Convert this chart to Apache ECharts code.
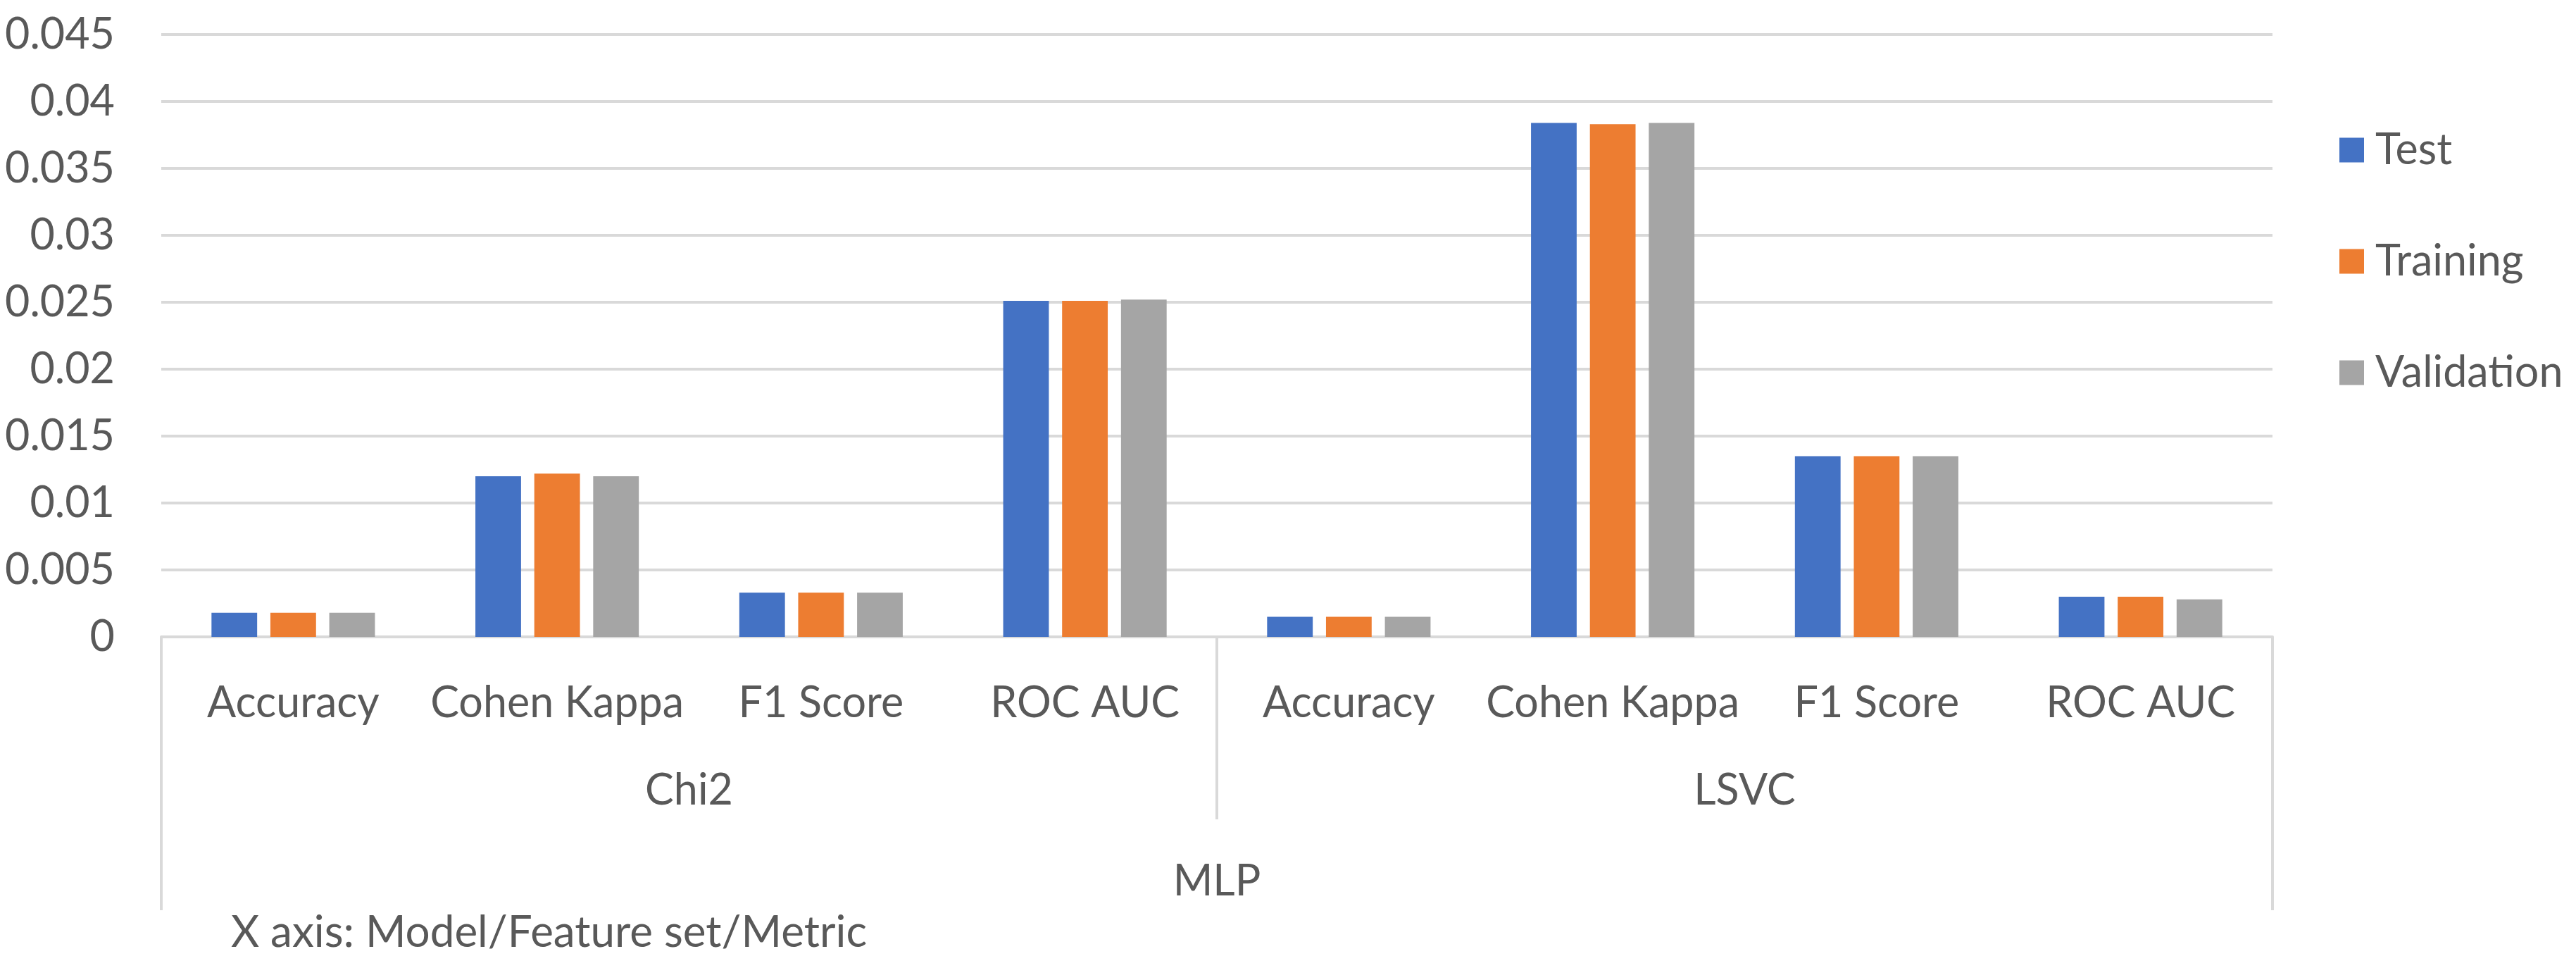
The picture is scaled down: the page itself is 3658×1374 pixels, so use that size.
<!DOCTYPE html>
<html>
<head>
<meta charset="utf-8">
<script src="https://cdn.jsdelivr.net/npm/echarts@6/dist/echarts.min.js"></script>
<style>
html,body{margin:0;padding:0;background:#fff;}
#chart{width:3658px;height:1374px;}
</style>
</head>
<body>
<div id="chart"></div>
<script>
// ---- data ----
const metrics = ['Accuracy', 'Cohen Kappa', 'F1 Score', 'ROC AUC', 'Accuracy', 'Cohen Kappa', 'F1 Score', 'ROC AUC'];
const featureSets = ['Chi2', 'LSVC'];
const models = ['MLP'];
const seriesNames = ['Test', 'Training', 'Validation'];
const testValues = [0.0018, 0.0120, 0.0033, 0.0251, 0.0015, 0.0384, 0.0135, 0.0030];
const trainingValues = [0.0018, 0.0122, 0.0033, 0.0251, 0.0015, 0.0383, 0.0135, 0.0030];
const validationValues = [0.0018, 0.0120, 0.0033, 0.0252, 0.0015, 0.0384, 0.0135, 0.0028];
const axisTitle = 'X axis: Model/Feature set/Metric';

const FONT = 'Lato';
const TXT = '#595959';
const LINE = '#d9d9d9';
const FS = 61;

const chart = echarts.init(document.getElementById('chart'), null, {renderer: 'canvas'});
const colors = ['#4472C4', '#ED7D31', '#A5A5A5'];
const values = [testValues, trainingValues, validationValues];

const option = {
  animation: false,
  backgroundColor: '#ffffff',
  textStyle: {fontFamily: FONT},
  title: {
    text: axisTitle,
    left: 328, top: 1294, padding: 0,
    textStyle: {fontFamily: FONT, fontSize: 62, fontWeight: 'normal', color: TXT, lineHeight: 60}
  },
  legend: {
    orient: 'vertical',
    left: 3317, top: 172,
    itemWidth: 35, itemHeight: 35, itemGap: 86,
    icon: 'rect',
    selectedMode: false,
    data: seriesNames,
    textStyle: {fontFamily: FONT, fontSize: FS, color: TXT, lineHeight: 72, padding: [0, 0, 0, 11]}
  },
  grid: {left: 229, right: 431, top: 49, bottom: 470, containLabel: false},
  yAxis: {
    type: 'value', min: 0, max: 0.045, interval: 0.005,
    axisLine: {show: false}, axisTick: {show: false},
    splitLine: {lineStyle: {color: LINE, width: 4}},
    axisLabel: {fontFamily: FONT, fontSize: FS, color: TXT, margin: 66}
  },
  xAxis: [
    {
      type: 'category', data: metrics, position: 'bottom',
      axisLine: {lineStyle: {color: LINE, width: 4}},
      axisTick: {show: false},
      axisLabel: {interval: 0, fontFamily: FONT, fontSize: FS, color: TXT, margin: 94, verticalAlign: 'middle', lineHeight: 60}
    },
    {
      type: 'category', data: featureSets, position: 'bottom',
      axisLine: {show: false},
      axisTick: {show: true, interval: 0, length: 259, lineStyle: {color: LINE, width: 4}},
      axisLabel: {interval: 0, fontFamily: FONT, fontSize: FS, color: TXT, margin: 218, verticalAlign: 'middle', lineHeight: 60},
      splitLine: {show: false}
    },
    {
      type: 'category', data: models, position: 'bottom',
      axisLine: {show: false},
      axisTick: {show: true, interval: 0, length: 388, lineStyle: {color: LINE, width: 4}},
      axisLabel: {interval: 0, fontFamily: FONT, fontSize: FS, color: TXT, margin: 347, verticalAlign: 'middle', lineHeight: 60},
      splitLine: {show: false}
    }
  ],
  series: seriesNames.map((name, i) => ({
    name: name,
    type: 'bar',
    xAxisIndex: 0,
    data: values[i],
    barWidth: '17.3%',
    barGap: '29%',
    itemStyle: {color: colors[i]}
  }))
};
chart.setOption(option);
</script>
</body>
</html>
